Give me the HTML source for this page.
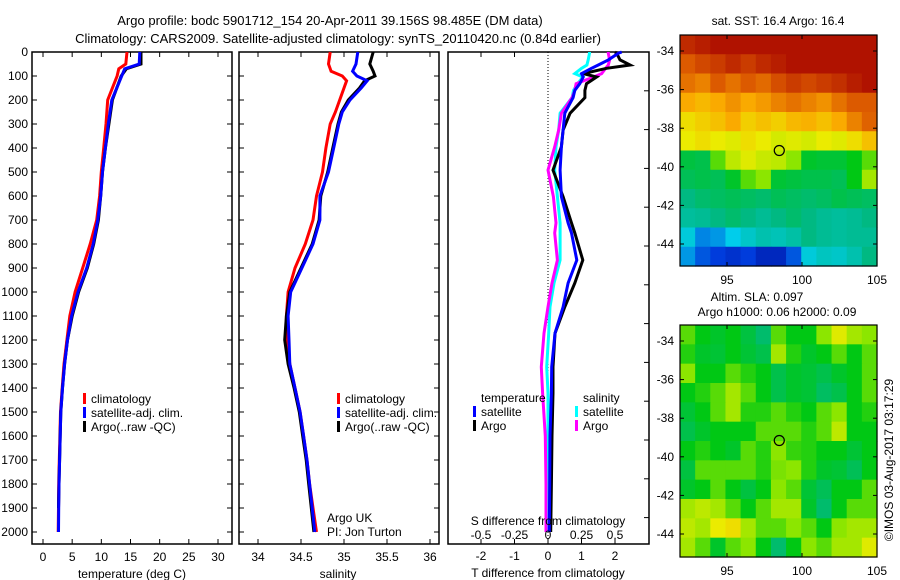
<!DOCTYPE html>
<html><head><meta charset="utf-8"><style>
html,body{margin:0;padding:0;background:#fff;width:900px;height:580px;overflow:hidden}
svg{display:block;font-family:"Liberation Sans",sans-serif;font-size:12px}
</style></head><body>
<svg id="chart" width="900" height="580">
<text x="330" y="25" text-anchor="middle" font-size="13">Argo profile: bodc 5901712_154 20-Apr-2011 39.156S 98.485E (DM data)</text>
<text x="338" y="43" text-anchor="middle" font-size="13">Climatology: CARS2009. Satellite-adjusted climatology: synTS_20110420.nc (0.84d earlier)</text>
<g id="g"></g>
</svg>
<script>
// ---- data ----
const depthT = [0,50,70,100,200,300,400,500,600,700,800,900,1000,1100,1200,1300,1400,1500,1600,1700,1800,1900,2000];
const tempClim = [14.4,14.2,13.0,12.7,11.1,10.8,10.4,10.0,9.7,9.2,8.1,6.8,5.5,4.6,4.1,3.6,3.3,3.0,2.9,2.8,2.7,2.65,2.6];
const tempSat = [16.6,16.5,14.0,13.5,11.8,11.2,10.7,10.2,9.9,9.4,8.6,7.5,6.0,4.9,4.2,3.7,3.35,3.05,2.95,2.85,2.75,2.7,2.65];
const tempArgo = [16.8,16.8,14.3,13.4,11.9,11.3,10.7,10.2,9.9,9.5,8.7,7.6,6.1,5.0,4.2,3.7,3.35,3.05,2.95,2.85,2.75,2.65];
const depthS = [0,50,80,100,120,150,200,250,300,400,500,600,700,800,900,1000,1100,1200,1300,1400,1500,1600,1700,1800,1900,2000];
const salClim = [34.84,34.82,34.85,34.98,35.03,35.0,34.95,34.9,34.84,34.79,34.75,34.68,34.64,34.55,34.43,34.35,34.33,34.33,34.37,34.43,34.49,34.53,34.57,34.6,34.64,34.68];
const salSat = [35.16,35.14,35.1,35.15,35.27,35.2,35.07,34.98,34.94,34.88,34.82,34.72,34.72,34.64,34.51,34.38,34.35,34.36,34.37,34.43,34.49,34.53,34.57,34.6,34.63,34.66];
const salArgo = [35.34,35.3,35.34,35.36,35.24,35.18,35.05,34.97,34.93,34.87,34.81,34.73,34.71,34.63,34.5,34.37,34.33,34.31,34.35,34.42,34.48,34.52,34.56,34.59,34.62,34.65];
const depthD = [0,5,33,54,68,90,104,132,160,190,255,325,395,492,603,712,754,867,963,1062,1172,1312,1421,1600,1800,2000];
const dTsat = [2.2,2.1,1.8,1.5,1.3,1.0,1.05,0.95,0.8,0.75,0.5,0.45,0.4,0.36,0.4,0.6,0.7,0.86,0.6,0.45,0.21,0.11,0.1,0.06,0.05,0.04];
const dTargo = [2.0,2.05,2.15,2.45,1.75,1.05,1.45,1.15,1.1,1.1,0.66,0.45,0.4,0.15,0.45,0.7,0.8,1.04,0.8,0.5,0.21,0.15,0.15,0.12,0.1,0.08];
const dSsat = [0.31,0.31,0.3,0.29,0.25,0.2,0.26,0.22,0.19,0.18,0.09,0.08,0.06,0.05,0.07,0.09,0.09,0.09,0.045,0.015,0.005,-0.01,0.0,0.0,0.005,0.005];
const dSargo = [0.45,0.45,0.46,0.45,0.43,0.4,0.34,0.21,0.2,0.18,0.1,0.08,0.05,0.0,0.04,0.06,0.05,0.07,0.03,0.0,-0.03,-0.05,-0.04,-0.02,-0.015,-0.015];
const depthTicks = [0,100,200,300,400,500,600,700,800,900,1000,1100,1200,1300,1400,1500,1600,1700,1800,1900,2000];
const tempTicks = [0,5,10,15,20,25,30];
const salTicks = [34,34.5,35,35.5,36];
const salTickLabels = ["34","34.5","35","35.5","36"];
const tdTicks = [-2,-1,0,1,2];
const sdTicks = [-0.5,-0.25,0,0.25,0.5];
const sdTickLabels = ["-0.5","-0.25","0","0.25","0.5"];
const latTicks = [-34,-36,-38,-40,-42,-44];
const lonTicks = [95,100,105];
const argoLon = 98.485, argoLat = -39.156;
const sstGrid = [
[0.93,0.95,0.97,0.97,0.97,0.97,0.97,0.97,0.97,0.97,0.97,0.97,0.97],
[0.85,0.88,0.9,0.93,0.9,0.93,0.95,0.97,0.97,0.97,0.97,0.97,0.97],
[0.82,0.8,0.85,0.82,0.85,0.83,0.87,0.9,0.88,0.9,0.92,0.95,0.97],
[0.75,0.73,0.75,0.78,0.75,0.77,0.8,0.82,0.8,0.78,0.82,0.85,0.85],
[0.68,0.7,0.72,0.75,0.7,0.72,0.7,0.73,0.74,0.72,0.75,0.8,0.84],
[0.66,0.68,0.66,0.65,0.68,0.66,0.64,0.65,0.64,0.66,0.65,0.68,0.72],
[0.46,0.45,0.55,0.62,0.65,0.63,0.62,0.58,0.48,0.47,0.47,0.5,0.55],
[0.44,0.45,0.44,0.48,0.55,0.58,0.47,0.46,0.45,0.45,0.44,0.5,0.6],
[0.4,0.42,0.43,0.44,0.43,0.42,0.44,0.43,0.42,0.43,0.45,0.44,0.43],
[0.37,0.38,0.4,0.42,0.4,0.38,0.4,0.42,0.4,0.38,0.37,0.38,0.4],
[0.3,0.2,0.22,0.28,0.32,0.35,0.34,0.36,0.4,0.38,0.37,0.38,0.38],
[0.22,0.15,0.12,0.1,0.12,0.08,0.08,0.15,0.3,0.33,0.32,0.35,0.4]];
const slaGrid = [
[0.55,0.5,0.48,0.5,0.46,0.42,0.55,0.5,0.5,0.58,0.65,0.6,0.58],
[0.52,0.48,0.47,0.5,0.47,0.45,0.6,0.52,0.48,0.5,0.55,0.5,0.55],
[0.58,0.5,0.5,0.55,0.52,0.5,0.45,0.48,0.47,0.45,0.48,0.5,0.55],
[0.5,0.52,0.55,0.6,0.55,0.5,0.45,0.48,0.47,0.43,0.45,0.5,0.55],
[0.47,0.5,0.55,0.6,0.52,0.52,0.55,0.52,0.5,0.55,0.58,0.5,0.52],
[0.45,0.48,0.5,0.5,0.5,0.55,0.55,0.55,0.52,0.55,0.62,0.5,0.5],
[0.5,0.52,0.5,0.48,0.55,0.52,0.58,0.53,0.52,0.5,0.5,0.47,0.5],
[0.46,0.55,0.55,0.55,0.55,0.52,0.57,0.58,0.52,0.48,0.47,0.44,0.5],
[0.48,0.5,0.55,0.5,0.46,0.5,0.58,0.55,0.47,0.44,0.5,0.5,0.55],
[0.6,0.62,0.6,0.55,0.5,0.55,0.6,0.6,0.48,0.42,0.5,0.55,0.55],
[0.62,0.6,0.66,0.68,0.6,0.55,0.55,0.58,0.55,0.5,0.58,0.6,0.6],
[0.6,0.55,0.48,0.55,0.58,0.5,0.42,0.5,0.58,0.55,0.6,0.6,0.65]];

// ---- drawing ----
const NS='http://www.w3.org/2000/svg';
const G=document.getElementById('g');
function el(tag,attrs,parent){const e=document.createElementNS(NS,tag);for(const k in attrs)e.setAttribute(k,attrs[k]);(parent||G).appendChild(e);return e;}
function txt(x,y,s,anchor,parent){const t=el('text',{x:x,y:y,'text-anchor':anchor||'middle'},parent);t.textContent=s;return t;}
const top0=52, pb=544;
const yD=d=>top0+d*0.24;
const xT=v=>43+v*5.833;
const xS=v=>258+(v-34)*86;
const xTd=v=>548+v*33.5;
const xSd=v=>548+v*134;
function frame(x0,x1,name){
  const r=el('rect',{x:x0,y:top0,width:x1-x0,height:pb-top0,fill:'none',stroke:'#000','stroke-width':1.5});
  
  
}
function line(xs,ds,xf,color,name,w){
  const p=xs.map((v,i)=>xf(v).toFixed(1)+','+yD(ds[i]).toFixed(1)).join(' ');
  const l=el('polyline',{points:p,fill:'none',stroke:color,'stroke-width':w||3,'stroke-linejoin':'miter'});
  
  
}
function yticks(x0,x1,labels){
  depthTicks.forEach(d=>{
    el('line',{x1:x0,x2:x0+5,y1:yD(d),y2:yD(d),stroke:'#000'});
    el('line',{x1:x1-5,x2:x1,y1:yD(d),y2:yD(d),stroke:'#000'});
    if(labels){const t=txt(28,yD(d)+4,String(d),'end');
      
      }
  });
}
function xticks(ticks,labs,xf,y){
  ticks.forEach((v,i)=>{
    const x=xf(v);
    el('line',{x1:x,x2:x,y1:pb,y2:pb-5,stroke:'#000'});
    el('line',{x1:x,x2:x,y1:top0,y2:top0+5,stroke:'#000'});
    if(labs){const t=txt(x,y,labs[i]);
      
      }
  });
}
function legItem(x,y,color,label,name){
  el('rect',{x:x,y:y-10,width:3,height:11,fill:color});
  const t=txt(x+8,y,label,'start');
  
  
}
// Panel 1 temperature
frame(32,232,'temperature-panel');
yticks(32,232,true);
xticks(tempTicks,tempTicks.map(String),xT,561);
line(tempClim,depthT,xT,'#ff0000','temp-climatology-line');
line(tempArgo,depthT.slice(0,tempArgo.length),xT,'#000','temp-argo-line');
line(tempSat,depthT,xT,'#0000ff','temp-satellite-line');
let t=txt(132,578,'temperature (deg C)');
legItem(83,403,'#f00','climatology','legend-climatology');
legItem(83,417,'#00f','satellite-adj. clim.','legend-satellite');
legItem(83,431,'#000','Argo(..raw -QC)','legend-argo');
// Panel 2 salinity
frame(239,439,'salinity-panel');
yticks(239,439,false);
xticks(salTicks,salTickLabels,xS,561);
line(salClim,depthS,xS,'#ff0000','sal-climatology-line');
line(salArgo,depthS,xS,'#000','sal-argo-line');
line(salSat,depthS,xS,'#0000ff','sal-satellite-line');
t=txt(338,578,'salinity');
legItem(337,403,'#f00','climatology','legend-climatology-2');
legItem(337,417,'#00f','satellite-adj. clim.','legend-satellite-2');
legItem(337,431,'#000','Argo(..raw -QC)','legend-argo-2');
t=txt(327,522,'Argo UK','start');
t=txt(327,536,'PI: Jon Turton','start');
// Panel 3 differences
frame(448,649,'difference-panel');
for(let i=0;i<13;i++){const y=top0+i*38.8;if(y>pb)break;
  el('line',{x1:644,x2:649,y1:y,y2:y,stroke:'#000'});}
[-2,-1].forEach(v=>{const x=xTd(v);el('line',{x1:x,x2:x,y1:top0,y2:top0+5,stroke:'#000'});});
el('line',{x1:548,x2:548,y1:top0,y2:pb,stroke:'#000','stroke-dasharray':'1,2'});
line(dSsat,depthD,xSd,'#00ffff','sal-diff-satellite-line');
line(dSargo,depthD,xSd,'#ff00ff','sal-diff-argo-line');
line(dTargo,depthD,xTd,'#000','temp-diff-argo-line');
line(dTsat,depthD,xTd,'#0000ff','temp-diff-satellite-line');
tdTicks.forEach(v=>{const x=xTd(v);el('line',{x1:x,x2:x,y1:pb,y2:pb-5,stroke:'#000'});
  const tt=txt(x,560,String(v));});
sdTicks.forEach((v,i)=>{const x=xSd(v);el('line',{x1:x,x2:x,y1:pb,y2:pb-5,stroke:'#000'});
  const tt=txt(x,539,sdTickLabels[i]);});
t=txt(548,525,'S difference from climatology');
t=txt(548,577,'T difference from climatology');
t=txt(481,402,'temperature','start');
t=txt(583,402,'salinity','start');
legItem(473,416,'#00f','satellite','legend-t-satellite');
legItem(473,430,'#000','Argo','legend-t-argo');
legItem(575,416,'#0ff','satellite','legend-s-satellite');
legItem(575,430,'#f0f','Argo','legend-s-argo');
// Maps
const cmStops=[[0,0,0,130],[0.12,0,60,220],[0.28,0,205,235],[0.4,0,185,130],[0.5,0,200,20],[0.58,140,230,0],[0.66,235,235,0],[0.75,250,170,0],[0.85,220,90,0],[1,165,0,0]];
function cmap(v){
  for(let i=1;i<cmStops.length;i++){const a=cmStops[i-1],b=cmStops[i];
    if(v<=b[0]){const f=Math.max(0,(v-a[0])/(b[0]-a[0]));
      return 'rgb('+[1,2,3].map(k=>Math.round(a[k]+(b[k]-a[k])*f)).join(',')+')';}}
  return 'rgb(165,0,0)';
}
function map(grid,y0,y1,lat34y,name){
  const x0=680,x1=877,pxDeg=15,latPx=19.3;
  const gMap=el('g',{});
  
  
  const rows=grid.length,cols=grid[0].length;
  const cw=(x1-x0)/cols,ch=(y1-y0)/rows;
  grid.forEach((row,r)=>row.forEach((v,c)=>{
    const cell=el('rect',{x:x0+c*cw,y:y0+r*ch,width:cw+0.6,height:ch+0.6,fill:cmap(v)},gMap);
    
    
  }));
  el('rect',{x:x0,y:y0,width:x1-x0,height:y1-y0,fill:'none',stroke:'#000','stroke-width':1.2},gMap);
  const lx=v=>802+(v-100)*pxDeg, ly=v=>lat34y+(-34-v)*latPx;
  latTicks.forEach(v=>{const y=ly(v);
    el('line',{x1:x0,x2:x0+4,y1:y,y2:y,stroke:'#000'},gMap);el('line',{x1:x1-4,x2:x1,y1:y,y2:y,stroke:'#000'},gMap);
    const tt=txt(674,y+4,String(v),'end',gMap);});
  lonTicks.forEach(v=>{const x=lx(v);
    el('line',{x1:x,x2:x,y1:y0,y2:y0+4,stroke:'#000'},gMap);el('line',{x1:x,x2:x,y1:y1,y2:y1-4,stroke:'#000'},gMap);
    const tt=txt(x,y1+18,String(v),'middle',gMap);});
  const c=el('circle',{cx:lx(argoLon),cy:ly(argoLat),r:5,fill:'none',stroke:'#000','stroke-width':1.2},gMap);
  
  
}
map(sstGrid,35,266,51,'sst-map');
map(slaGrid,325,557,341,'sla-map');
t=txt(778,25,'sat. SST: 16.4 Argo: 16.4');
t=txt(757,301,'Altim. SLA: 0.097');
t=txt(777,316,'Argo h1000: 0.06 h2000: 0.09');
t=txt(0,0,'©IMOS 03-Aug-2017 03:17:29');
t.setAttribute('transform','translate(893,460) rotate(-90)');


</script>
</body></html>
